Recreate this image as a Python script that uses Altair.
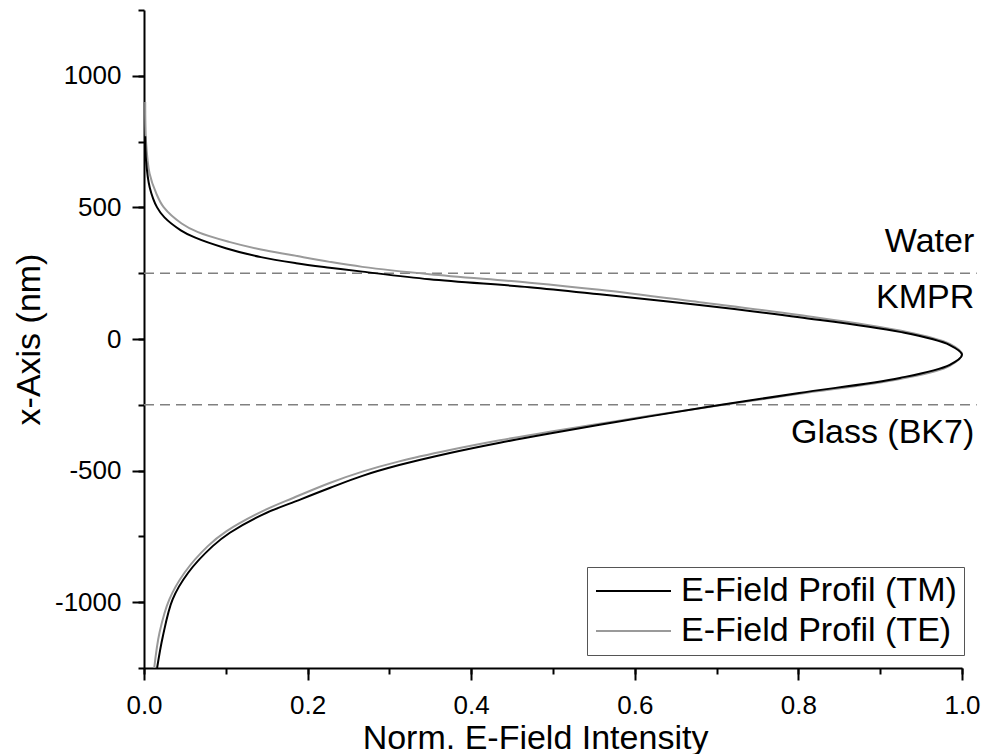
import altair as alt
import pandas as pd

# ---- data ----
tm_pos = [770, 678, 576, 500, 462, 413, 386, 345, 311, 288, 271, 256, 227, 197, 170, 129, 83, 27, -23, -60,
          -98, -148, -205, -251, -294, -326, -359, -394, -433, -479, -520, -566, -616, -667, -736, -787,
          -888, -989, -1130, -1250]
tm_int = [0.0015, 0.0025, 0.007, 0.016, 0.025, 0.045, 0.062, 0.100, 0.143, 0.186, 0.227, 0.267, 0.349, 0.471,
          0.557, 0.679, 0.801, 0.924, 0.985, 1.0,
          0.985, 0.924, 0.801, 0.704, 0.618, 0.557, 0.496, 0.435, 0.374, 0.312, 0.267, 0.227, 0.186, 0.145,
          0.105, 0.084, 0.054, 0.035, 0.023, 0.016]
te_pos = [900, 750, 629, 553, 501, 439, 406, 369, 340, 318, 293, 274, 246, 214, 187, 140, 91, 32, -19, -58,
          -102, -152, -208, -252, -292, -322, -352, -385, -422, -465, -504, -547, -603, -654, -730, -787,
          -888, -989, -1115, -1250]
te_int = [0.0015, 0.0025, 0.0068, 0.015, 0.024, 0.046, 0.066, 0.104, 0.143, 0.182, 0.227, 0.267, 0.349, 0.471,
          0.557, 0.679, 0.801, 0.924, 0.985, 1.0,
          0.985, 0.924, 0.801, 0.704, 0.618, 0.557, 0.496, 0.435, 0.374, 0.312, 0.267, 0.227, 0.183, 0.145,
          0.101, 0.078, 0.0495, 0.031, 0.019, 0.0125]

series_names = ["E-Field Profil (TM)", "E-Field Profil (TE)"]
series_colors = ["#000000", "#9a9a9a"]

boundary_pos = [250, -250]
layer_names = ["Water", "KMPR", "Glass (BK7)"]
layer_label_pos = [330, 117, -394]

x_major = [0.0, 0.2, 0.4, 0.6, 0.8, 1.0]
x_minor = [0.0, 0.1, 0.2, 0.3, 0.4, 0.5, 0.6, 0.7, 0.8, 0.9, 1.0]
y_major = [-1000, -500, 0, 500, 1000]
y_minor = [-1250, -1000, -750, -500, -250, 0, 250, 500, 750, 1000, 1250]

# ---- tables ----
rows = []
for p, v in zip(te_pos, te_int):
    rows.append({"series": series_names[1], "pos": p, "intensity": v})
for p, v in zip(tm_pos, tm_int):
    rows.append({"series": series_names[0], "pos": p, "intensity": v})
curves = pd.DataFrame(rows)

bounds = pd.DataFrame({"pos": boundary_pos, "x0": [0.0] * len(boundary_pos), "x1": [1.018] * len(boundary_pos)})
labels = pd.DataFrame({"label": layer_names, "pos": layer_label_pos, "xr": [1.015] * len(layer_names)})

FONT = "Liberation Sans"
xscale = alt.Scale(domain=[0, 1], nice=False, zero=False)
yscale = alt.Scale(domain=[-1250, 1250], nice=False, zero=False)

x_axis = alt.Axis(values=x_major, labelExpr="format(datum.value, '.1f')", orient="bottom",
                  tickSize=12, tickWidth=2, tickColor="black", domainColor="black", domainWidth=2,
                  labelFontSize=26, labelFont=FONT, labelColor="black", labelPadding=12,
                  labelFlush=False, labelOverlap=False, grid=False,
                  title="Norm. E-Field Intensity", titleFont=FONT, titleFontSize=34, titleFontWeight="normal",
                  titleColor="black", titleX=391, titleY=80, titleAlign="center", titleBaseline="alphabetic")
y_axis = alt.Axis(values=y_major, labelExpr="'' + datum.value", orient="left",
                  tickSize=12, tickWidth=2, tickColor="black", domainColor="black", domainWidth=2,
                  labelFontSize=26, labelFont=FONT, labelColor="black", labelPadding=11,
                  labelFlush=False, labelOverlap=False, grid=False,
                  title="x-Axis (nm)", titleFont=FONT, titleFontSize=34, titleFontWeight="normal",
                  titleColor="black", titleX=-115, titleY=329, titleAngle=270, titleAlign="center",
                  titleBaseline="middle")

x_minor_axis = alt.Axis(values=x_minor, orient="bottom", tickSize=6, tickWidth=2, tickColor="black",
                        labels=False, domain=False, grid=False, title=None)
y_minor_axis = alt.Axis(values=y_minor, orient="left", tickSize=6, tickWidth=2, tickColor="black",
                        labels=False, domain=False, grid=False, title=None)

rules = alt.Chart(bounds).mark_rule(color="#808080", strokeWidth=1.6, strokeDash=[10, 6]).encode(
    x=alt.X("x0:Q", scale=xscale, axis=x_axis),
    x2="x1:Q",
    y=alt.Y("pos:Q", scale=yscale, axis=y_axis),
)

texts = alt.Chart(labels).mark_text(align="right", baseline="alphabetic", font=FONT, fontSize=34,
                                    color="black").encode(
    x=alt.X("xr:Q", scale=xscale, axis=x_axis),
    y=alt.Y("pos:Q", scale=yscale, axis=y_axis),
    text="label:N",
)

lines = alt.Chart(curves).mark_line(strokeWidth=2, interpolate="catmull-rom").encode(
    x=alt.X("intensity:Q", scale=xscale, axis=x_axis),
    y=alt.Y("pos:Q", scale=yscale, axis=y_axis),
    order=alt.Order("pos:Q"),
    color=alt.Color("series:N", scale=alt.Scale(domain=series_names, range=series_colors),
                    legend=alt.Legend(orient="none", legendX=443, legendY=557, title=None,
                                      labelFont=FONT, labelFontSize=34, labelColor="black", labelLimit=500,
                                      symbolType="M-1,0H4", symbolSize=900, symbolStrokeWidth=2,
                                      labelOffset=53, padding=7, rowPadding=6,
                                      strokeColor="#555555", fillColor="white")),
)

main = alt.layer(rules, texts, lines)

minor = alt.Chart(bounds).mark_point(opacity=0).encode(
    x=alt.X("x0:Q", scale=xscale, axis=x_minor_axis),
    y=alt.Y("pos:Q", scale=yscale, axis=y_minor_axis),
)

chart = alt.layer(minor, main).resolve_scale(x="independent", y="independent").properties(
    width=818, height=658,
    autosize=alt.AutoSizeParams(type="none"),
    padding={"left": 144, "top": 10, "right": 22, "bottom": 86},
    background="white",
).configure_view(strokeWidth=0)

chart.save("out.html", embed_options={"renderer": "svg", "actions": False})
